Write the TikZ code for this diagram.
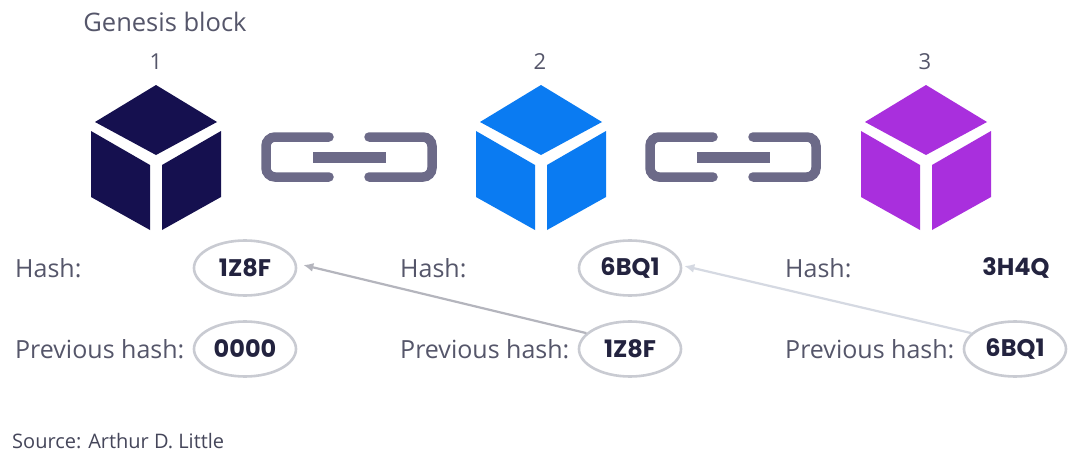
\documentclass[tikz,border=0pt]{standalone}
\usepackage{fontspec}
\setmainfont{Open Sans}
\newfontfamily\valfont{Poppins}
\usetikzlibrary{shapes.geometric,arrows.meta}
\definecolor{navy}{HTML}{15104F}
\definecolor{azure}{HTML}{0A7BF2}
\definecolor{violet}{HTML}{A92FDD}
\definecolor{slatechain}{HTML}{6C6A88}
\definecolor{labelgrey}{HTML}{55566A}
\definecolor{sourceink}{HTML}{45465A}
\definecolor{valueink}{HTML}{23233F}
\definecolor{ringgrey}{HTML}{C9CBD2}
\definecolor{arrowgrey}{HTML}{B4B5BD}
\definecolor{arrowpale}{HTML}{D5D9E2}
\tikzset{
  x=1pt,y=-1pt,
  lab/.style={anchor=west,inner sep=0pt,text=labelgrey,font=\fontsize{25}{28}\selectfont},
  num/.style={inner sep=0pt,text=labelgrey,font=\fontsize{22}{26}\selectfont},
  val/.style={inner sep=0pt,text=valueink,font=\fontsize{24}{28}\valfont\bfseries},
  ring/.style={ellipse,draw=ringgrey,line width=2.6pt,minimum width=102pt,minimum height=55pt,inner sep=0pt,text=valueink,font=\fontsize{24}{28}\valfont\bfseries},
  linkarrow/.style={line width=2.2pt,-{Latex[length=10pt,width=9pt]}},
  cube/.pic={
    \fill (0,-72) -- (61,-35) -- (0,-2) -- (-61,-35) -- cycle;
    \fill (-65,-26) -- (-6,8) -- (-6,73) -- (-65,40) -- cycle;
    \fill (65,-26) -- (6,8) -- (6,73) -- (65,40) -- cycle;
  },
  chainlink/.pic={
    \draw[slatechain,line width=9.5pt,line cap=round,rounded corners=9pt]
      (-20,-20) -- (-83,-20) -- (-83,20) -- (-20,20);
    \draw[slatechain,line width=9.5pt,line cap=round,rounded corners=9pt]
      (20,-20) -- (83,-20) -- (83,20) -- (20,20);
    \fill[slatechain] (-36,-5) rectangle (37,6);
  }
}
\begin{document}
\begin{tikzpicture}
\useasboundingbox (0,0) rectangle (1080,463);
\fill[white] (0,0) rectangle (1080,463);
\node[inner sep=0pt,text=labelgrey,font=\fontsize{25.5}{28}\selectfont] (genesis) at (165,22) {Genesis block};
\node[num] (n1) at (156,62) {1};
\node[num] (n2) at (540,62) {2};
\node[num] (n3) at (925,62) {3};
\pic[fill=navy] at (156,157) {cube};
\pic[fill=azure] at (541,157) {cube};
\pic[fill=violet] at (926,157) {cube};
\pic at (349,157) {chainlink};
\pic at (733,157) {chainlink};
\node[lab] (h1) at (15,268) {Hash:};
\node[lab] (h2) at (400,268) {Hash:};
\node[lab] (h3) at (785,268) {Hash:};
\node[lab] (p1) at (15,349) {Previous hash:};
\node[lab] (p2) at (400,349) {Previous hash:};
\node[lab] (p3) at (785,349) {Previous hash:};
\node[ring] (a1) at (245,268) {1Z8F};
\node[ring] (a2) at (245,349) {0000};
\node[ring] (b1) at (630,268) {6BQ1};
\node[ring] (b2) at (630,349) {1Z8F};
\node[val] (c1) at (1016,268) {3H4Q};
\node[ring] (c2) at (1015,349) {6BQ1};
\draw[linkarrow,arrowgrey] (b2.160) -- ([xshift=6pt,yshift=3pt]a1.east);
\draw[linkarrow,arrowpale] (c2.160) -- ([xshift=2pt,yshift=2pt]b1.east);
\node[anchor=west,inner sep=0pt,text=sourceink,font=\fontsize{20}{23}\selectfont] (src) at (12,441) {Source: Arthur D. Little};
\end{tikzpicture}
\end{document}
